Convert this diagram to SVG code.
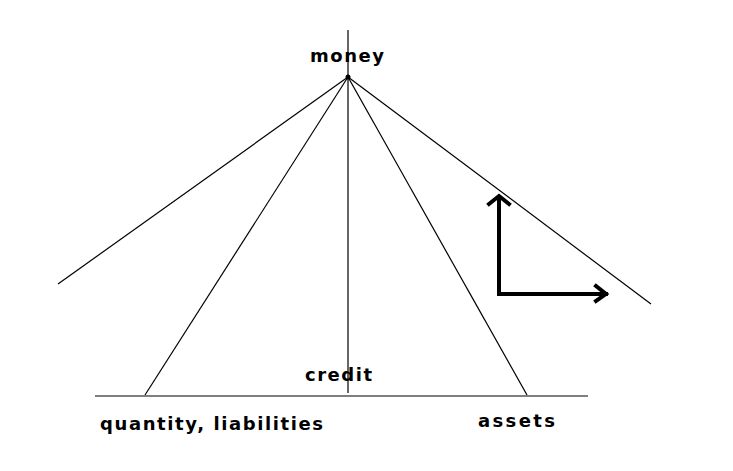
<svg xmlns="http://www.w3.org/2000/svg" width="733" height="471" viewBox="0 0 733 471">
<style>
.t{font-family:"DejaVu Sans","Liberation Sans",Arial,sans-serif;font-weight:bold;font-size:18px;fill:#000}
.ln{stroke:#000;stroke-width:1.2;fill:none}
.thick{stroke:#000;stroke-width:4;fill:none;stroke-linecap:square}
</style>
<rect width="733" height="471" fill="#fff"/>
<g id="connectors">
<line class="ln" x1="348" y1="30" x2="348" y2="393" stroke-width="1.6"/>
<line class="ln" x1="95" y1="396" x2="588" y2="396" stroke-width="1.8"/>
<line class="ln" x1="348" y1="77" x2="58" y2="284"/>
<line class="ln" x1="348" y1="77" x2="145" y2="395"/>
<line class="ln" x1="348" y1="77" x2="527" y2="395"/>
<line class="ln" x1="348" y1="77" x2="651" y2="304"/>
<circle cx="348" cy="77" r="2.5" fill="#000"/>
</g>
<g id="axes-arrows">
<polyline class="thick" points="499,197 499,294 606,294"/>
<polyline class="thick" points="489,204 499,196 509,204"/>
<polyline class="thick" points="596,286 606,294 596,301"/>
</g>
<g id="money"><text class="t" x="310" y="62" textLength="74" lengthAdjust="spacing">money</text></g>
<g id="credit"><text class="t" x="305" y="381" textLength="67" lengthAdjust="spacing">credit</text></g>
<g id="quantity"><text class="t" x="100" y="430" textLength="223" lengthAdjust="spacing">quantity, liabilities</text></g>
<g id="assets"><text class="t" x="478" y="427" textLength="77" lengthAdjust="spacing">assets</text></g>
</svg>
